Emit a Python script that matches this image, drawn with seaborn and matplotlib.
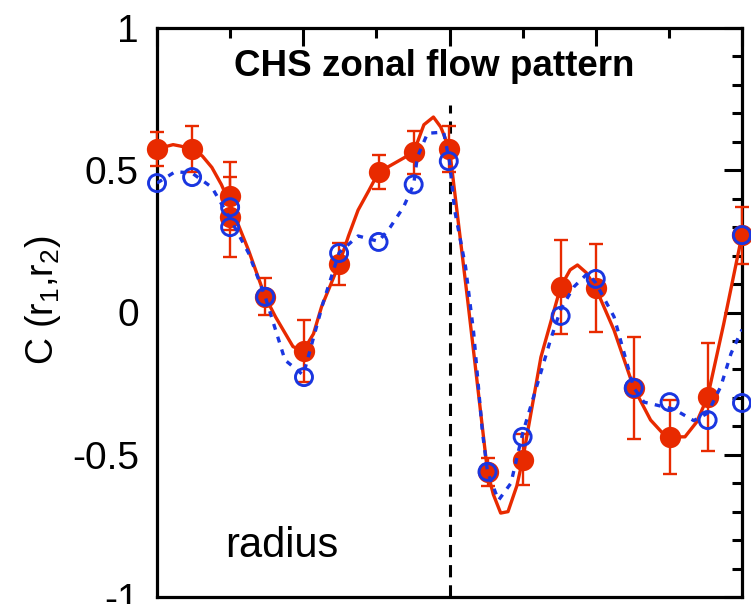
import matplotlib
matplotlib.use("Agg")
import matplotlib.pyplot as plt
import seaborn as sns
from matplotlib.ticker import MultipleLocator, NullFormatter

# ---- data ----
red_x = [0, 0.48, 1.0, 1.0, 1.48, 2.01, 2.49, 3.03, 3.51, 3.99, 4.52, 5.0, 5.52, 6.0, 6.52, 7.01, 7.53, 8.0]
red_y = [0.575, 0.575, 0.41, 0.335, 0.055, -0.135, 0.17, 0.493, 0.563, 0.575, -0.56, -0.518, 0.09, 0.086, -0.265, -0.437, -0.297, 0.272]
red_err = [0.06, 0.08, 0.12, 0.14, 0.065, 0.11, 0.075, 0.06, 0.075, 0.08, 0.05, 0.09, 0.165, 0.155, 0.18, 0.13, 0.19, 0.1]

blue_x = [0, 0.48, 1.0, 1.0, 1.48, 2.01, 2.49, 3.03, 3.51, 3.99, 4.52, 5.0, 5.52, 6.0, 6.52, 7.01, 7.53, 8.0, 8.0]
blue_y = [0.455, 0.476, 0.37, 0.30, 0.055, -0.227, 0.209, 0.248, 0.45, 0.532, -0.56, -0.437, -0.012, 0.118, -0.265, -0.315, -0.378, -0.318, 0.272]

red_curve_x = [0, 0.22, 0.32, 0.48, 0.62, 0.75, 0.88, 1.0, 1.25, 1.48, 1.62, 1.75, 1.86, 2.0, 2.14, 2.25, 2.49, 2.62,
               2.75, 2.9, 3.03, 3.25, 3.51, 3.65, 3.78, 3.88, 4.0, 4.25, 4.52, 4.6, 4.7, 4.8, 4.92, 5.0, 5.25,
               5.52, 5.65, 5.75, 5.87, 6.0, 6.25, 6.52, 6.75, 6.9, 7.0, 7.22, 7.38, 7.53, 7.75, 8.0]
red_curve_y = [0.575, 0.59, 0.585, 0.575, 0.55, 0.51, 0.45, 0.38, 0.22, 0.055, -0.015, -0.072, -0.12, -0.135, -0.075, 0.02, 0.17, 0.27,
               0.36, 0.43, 0.493, 0.525, 0.563, 0.66, 0.687, 0.652, 0.575, 0.04, -0.56, -0.64, -0.705, -0.70, -0.61, -0.518, -0.157,
               0.09, 0.15, 0.167, 0.14, 0.086, -0.062, -0.265, -0.378, -0.42, -0.437, -0.437, -0.385, -0.297, -0.04, 0.272]

blue_curve_x = [0, 0.25, 0.48, 0.75, 1.0, 1.25, 1.48, 1.75, 2.0, 2.27, 2.49, 2.75, 3.03, 3.19, 3.37, 3.51, 3.56, 3.7,
                3.92, 4.0, 4.07, 4.22, 4.33, 4.45, 4.52, 4.67, 4.84, 5.0, 5.25, 5.38, 5.52, 5.7, 5.89, 6.0, 6.25,
                6.52, 6.66, 7.07, 7.34, 7.53, 7.71, 7.85, 8.0]
blue_curve_y = [0.455, 0.495, 0.49, 0.44, 0.33, 0.21, 0.055, -0.167, -0.22, 0.033, 0.21, 0.269, 0.25, 0.30, 0.37, 0.45, 0.546, 0.63,
                0.634, 0.53, 0.36, 0.16, -0.07, -0.42, -0.56, -0.66, -0.6, -0.425, -0.21, -0.097, 0.01, 0.09, 0.138, 0.104, -0.015,
                -0.265, -0.315, -0.34, -0.38, -0.354, -0.26, -0.144, -0.06]

divider_x = 4.0
divider_top = 0.73

title_text = "CHS zonal flow pattern"
radius_text = "radius"
ylabel_text = r"C (r$_1$,r$_2$)"
yticks = [-1, -0.5, 0, 0.5, 1]
ytick_labels = ["-1", "-0.5", "0", "0.5", "1"]

# ---- style ----
sns.set_style("white")
plt.rcParams["font.family"] = ["Liberation Sans", "DejaVu Sans"]
plt.rcParams["mathtext.fontset"] = "custom"
plt.rcParams["mathtext.rm"] = "Liberation Sans"
plt.rcParams["mathtext.it"] = "Liberation Sans"

RED = "#E82A00"
BLUE = "#1A36E0"

fig = plt.figure(figsize=(7.51, 6.04), dpi=100)
ax = fig.add_axes([157 / 751, 1 - 597 / 604, (742 - 157) / 751, (597 - 28) / 604])

# divider
ax.vlines(divider_x, -1, divider_top, colors="black", linewidth=2.2,
          linestyles=(0, (4, 2.6)), zorder=1)

# red curve
sns.lineplot(x=red_curve_x, y=red_curve_y, ax=ax, color=RED, linewidth=2.4,
             sort=False, estimator=None, zorder=2)

# red error bars
ax.errorbar(red_x, red_y, yerr=red_err, fmt="none", ecolor=RED, elinewidth=1.7,
            capsize=5, capthick=1.7, zorder=3, clip_on=False)

# red points
sns.scatterplot(x=red_x, y=red_y, ax=ax, color=RED, s=235, edgecolor=RED,
                linewidth=0, zorder=4, clip_on=False)

# blue dotted curve
sns.lineplot(x=blue_curve_x, y=blue_curve_y, ax=ax, color=BLUE, linewidth=2.4,
             linestyle=(0, (1.8, 2.2)), sort=False, estimator=None, zorder=5)

# blue open circles
sns.scatterplot(x=blue_x, y=blue_y, ax=ax, color=BLUE, facecolor="none", edgecolor=BLUE,
                s=150, linewidth=2.1, zorder=6, clip_on=False)

ax.set_xlim(0, 8)
ax.set_ylim(-1, 1)
ax.xaxis.set_major_locator(MultipleLocator(2))
ax.xaxis.set_minor_locator(MultipleLocator(1))
ax.xaxis.set_major_formatter(NullFormatter())
ax.set_yticks(yticks)
ax.set_yticklabels(ytick_labels)
ax.yaxis.set_minor_locator(MultipleLocator(0.1))

ax.tick_params(which="both", direction="in", top=True, right=True, width=2.2,
               labelsize=28, pad=13, colors="black")
ax.tick_params(which="major", length=13)
ax.tick_params(which="minor", length=7)
for sp in ax.spines.values():
    sp.set_linewidth(2.3)
    sp.set_color("black")
    sp.set_visible(True)

ax.set_xlabel("")
ax.set_ylabel("")

ax.text(3.79, 0.83, title_text, ha="center", va="baseline", fontsize=26.5,
        fontweight="bold", color="black")
ax.text(0.93, -0.858, radius_text, ha="left", va="baseline", fontsize=30, color="black")
fig.text(43 / 751, 1 - 300 / 604, ylabel_text, rotation=90, ha="center", va="center",
         fontsize=27, color="black")

fig.savefig("out.png", dpi=100)
